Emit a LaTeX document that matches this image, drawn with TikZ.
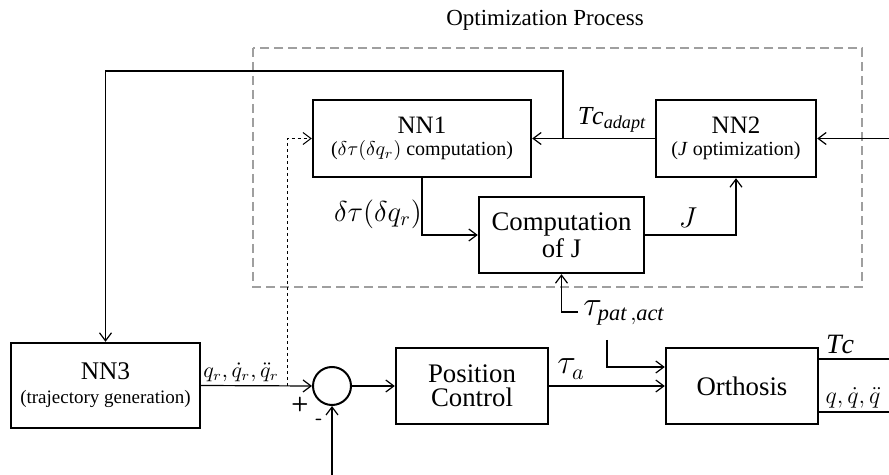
\documentclass[tikz,border=0pt]{standalone}
\usepackage{fontspec}
\setmainfont{Liberation Serif}
\usetikzlibrary{arrows.meta}

\begin{document}
\begin{tikzpicture}[x=0.5pt, y=-0.5pt, >={Straight Barb[length=4pt,width=6pt]},
	bloc/.style={draw, line width=1.2pt, align=center, inner sep=0pt},
	sig/.style={line width=0.6pt},
	zone/.style={draw=gray!75, line width=0.8pt, dash pattern=on 4.5pt off 2.5pt}]
	\useasboundingbox (0, 0) rectangle (889, 475);

	\draw[zone] (253, 48) rectangle (862, 287);
	\node (titre) at (545, 20) {\fontsize{11.5}{13}\selectfont Optimization Process};

	\node[bloc, minimum width=109pt, minimum height=38.5pt] (NN1) at (422, 138.5)
		{\fontsize{12.5}{14}\selectfont NN1\\[-1pt] \fontsize{10}{12}\selectfont ($\delta\tau(\delta q_r)$ computation)};
	\node[bloc, minimum width=80pt, minimum height=38.5pt] (NN2) at (736, 138.5)
		{\fontsize{12.5}{14}\selectfont NN2\\[-1pt] \fontsize{10}{12}\selectfont (\textit{J} optimization)};
	\node[bloc, minimum width=82.5pt, minimum height=38pt] (CompJ) at (561.5, 235)
		{\fontsize{13.4}{15}\selectfont Computation\\ \fontsize{13.4}{15}\selectfont of J};
	\node[bloc, minimum width=94.5pt, minimum height=42.5pt] (NN3) at (105.5, 385.5)
		{\fontsize{12.7}{14}\selectfont NN3\\ \fontsize{9.5}{11}\selectfont (trajectory generation)};
	\node[draw, circle, line width=1pt, minimum size=19pt, inner sep=0pt] (somme) at (332, 386) {};
	\node[bloc, minimum width=76pt, minimum height=38pt] (PosCtrl) at (472, 386)
		{\fontsize{13.4}{17}\selectfont Position\\ \fontsize{13.4}{17}\selectfont Control};
	\node[bloc, minimum width=76pt, minimum height=38pt] (Orth) at (742, 386)
		{\fontsize{13.4}{16}\selectfont Orthosis};

	\coordinate (inNN2) at (889, 138.5);
	\coordinate (noeud) at (563, 138.5);
	\coordinate (haut) at (563, 71);
	\coordinate (pointille) at (287, 386);
	\coordinate (tauA) at (578, 312);
	\coordinate (tauB) at (607, 340);
	\coordinate (retour) at (332, 475);
	\coordinate (outTc) at (889, 359);
	\coordinate (outq) at (889, 412);

	\draw[sig, ->] (inNN2) -- (NN2.east);
	\draw[sig, ->] (NN2.west) -- (NN1.east);
	\draw[sig, ->] (noeud) -- (haut) -| (NN3.north);
	\draw[sig, ->] (NN1.south) |- (CompJ.west);
	\draw[sig, ->] (CompJ.east) -| (NN2.south);
	\draw[sig, ->] (tauA) -| (CompJ.south);
	\draw[sig, ->] (tauB) |- ([yshift=9.5pt]Orth.west);
	\draw[sig, ->] (NN3.east) -- (somme.west);
	\draw[line width=0.5pt, dash pattern=on 1.5pt off 1.5pt, ->] (pointille) |- (NN1.west);
	\draw[sig, ->] (somme.east) -- (PosCtrl.west);
	\draw[sig, ->] (retour) -- (somme.south);
	\draw[sig, ->] (PosCtrl.east) -- (Orth.west);
	\draw[sig] ([yshift=13.5pt]Orth.east) -- (outTc);
	\draw[sig] ([yshift=-13pt]Orth.east) -- (outq);

	\node at (612, 120) {\fontsize{13}{15}\selectfont $\mathit{Tc}_{\mathit{adapt}}$};
	\node at (378, 214) {\fontsize{14}{16}\selectfont $\delta\tau(\delta q_r)$};
	\node at (688, 218) {\fontsize{14}{16}\selectfont $J$};
	\node at (624, 313) {\fontsize{16}{18}\selectfont $\tau_{\mathit{pat\,,act}}$};
	\node at (241, 372) {\fontsize{10.5}{12}\selectfont $q_r,\dot q_r,\ddot q_r$};
	\node at (571, 369) {\fontsize{16}{18}\selectfont $\tau_a$};
	\node at (840, 344) {\fontsize{14}{16}\selectfont $\mathit{Tc}$};
	\node at (853, 398) {\fontsize{12}{14}\selectfont $q,\dot q,\ddot q$};
	\node at (300, 405) {\sffamily\bfseries +};
	\node at (319, 422) {\sffamily\bfseries -};
\end{tikzpicture}
\end{document}
